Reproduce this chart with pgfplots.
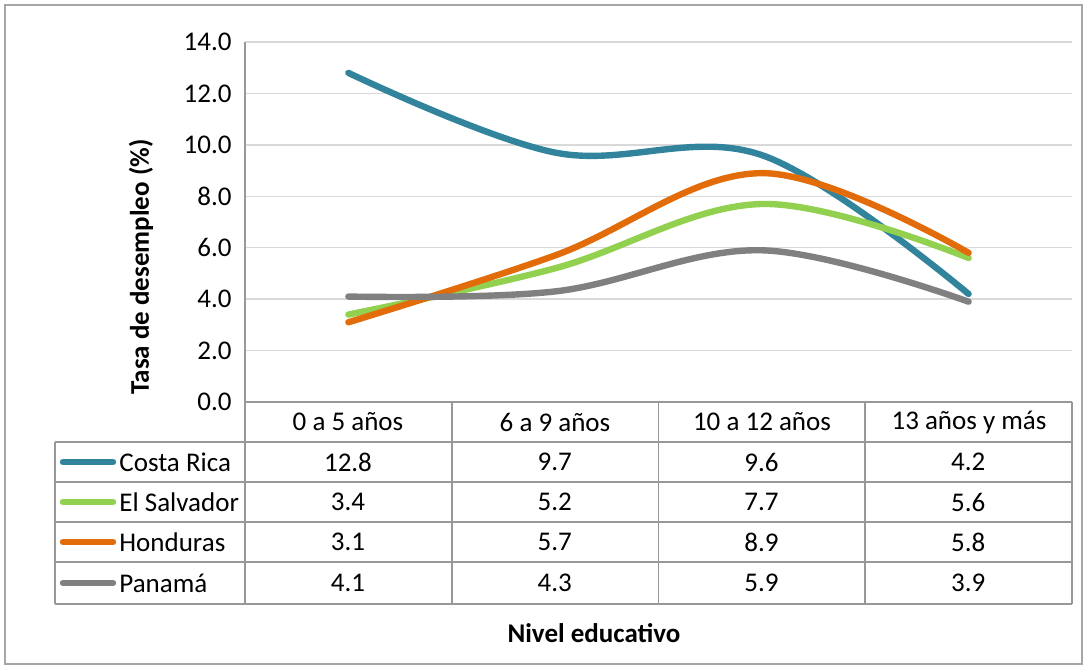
\documentclass[border=0pt]{standalone}
\usepackage{pgfplots}
\pgfplotsset{compat=1.18}
\usepackage{fontspec}
\setmainfont{Carlito}
\definecolor{cr}{HTML}{31849B}
\definecolor{sv}{HTML}{92D050}
\definecolor{hn}{HTML}{E36C0A}
\definecolor{pa}{HTML}{808080}
\definecolor{gridc}{HTML}{D9D9D9}
\definecolor{tabc}{HTML}{989898}
\definecolor{framec}{HTML}{A6A6A6}
\begin{document}
\begin{tikzpicture}[font=\fontsize{13.5}{15.5}\selectfont]
\begin{axis}[
  at={(0,0)}, anchor=south west,
  scale only axis, width=413.5pt, height=180pt,
  xmin=-0.5, xmax=3.5, ymin=0, ymax=14,
  ytick={0,2,...,14}, xtick=\empty,
  ymajorgrids, grid style={draw=gridc, line width=0.75pt},
  axis line style={draw=none}, major tick length=0pt,
  yticklabel style={/pgf/number format/.cd, fixed, fixed zerofill, precision=1, assume math mode=true, /tikz/.cd, anchor=east, inner sep=0pt, xshift=-6.5pt},
  clip=false,
]
\coordinate (O) at (rel axis cs:0,0);
\addplot[cr, line width=3.2pt, smooth, tension=0.6, line cap=round] coordinates {(0,12.8)(1,9.7)(2,9.6)(3,4.2)};
\addplot[sv, line width=3.2pt, smooth, tension=0.6, line cap=round] coordinates {(0,3.4)(1,5.2)(2,7.7)(3,5.6)};
\addplot[hn, line width=3.2pt, smooth, tension=0.6, line cap=round] coordinates {(0,3.1)(1,5.7)(2,8.9)(3,5.8)};
\addplot[pa, line width=3.2pt, smooth, tension=0.6, line cap=round] coordinates {(0,4.1)(1,4.3)(2,5.9)(3,3.9)};
\end{axis}
\begin{scope}[shift={(O)}, shift={(-122.5pt,201pt)}, x=0.5pt, y=-0.5pt]
\path (0,0) rectangle (1087,669);
\draw[framec, line width=0.6pt] (5,5) rectangle (1082,664);
% table
\draw[tabc, line width=0.8pt] (245,42) -- (245,604);
\draw[tabc, line width=0.8pt] (245,402) -- (1072,402);
\foreach \yy in {442,482,522,562,604} \draw[tabc, line width=0.8pt] (55,\yy) -- (1072,\yy);
\draw[tabc, line width=0.8pt] (55,442) -- (55,604);
\foreach \xx in {451.75,658.5,865.25,1072} \draw[tabc, line width=0.8pt] (\xx,402) -- (\xx,604);
% header
\node at (348,422) {0 a 5 años};
\node at (555,422) {6 a 9 años};
\node at (762,422) {10 a 12 años};
\node at (969,422) {13 años y más};
% legend + names
\draw[cr, line width=3.2pt, line cap=round] (63,462) -- (113,462);
\draw[sv, line width=3.2pt, line cap=round] (63,502) -- (113,502);
\draw[hn, line width=3.2pt, line cap=round] (63,542) -- (113,542);
\draw[pa, line width=3.2pt, line cap=round] (63,583) -- (113,583);
\node[anchor=west, inner sep=0pt] at (119,462) {Costa Rica};
\node[anchor=west, inner sep=0pt] at (119,502) {El Salvador};
\node[anchor=west, inner sep=0pt] at (119,542) {Honduras};
\node[anchor=west, inner sep=0pt] at (119,583) {Panamá};
% values
\foreach \v [count=\i from 0] in {12.8,9.7,9.6,4.2} \node at (348+206.75*\i,462) {\v};
\foreach \v [count=\i from 0] in {3.4,5.2,7.7,5.6} \node at (348+206.75*\i,502) {\v};
\foreach \v [count=\i from 0] in {3.1,5.7,8.9,5.8} \node at (348+206.75*\i,542) {\v};
\foreach \v [count=\i from 0] in {4.1,4.3,5.9,3.9} \node at (348+206.75*\i,583) {\v};
% axis titles
\node[rotate=90, font=\fontsize{13.5}{15.5}\selectfont\bfseries] at (141,267) {Tasa de desempleo (\%)};
\node[font=\fontsize{13.5}{15.5}\selectfont\bfseries] at (594,633) {Nivel educativo};
\end{scope}
\end{tikzpicture}
\end{document}
